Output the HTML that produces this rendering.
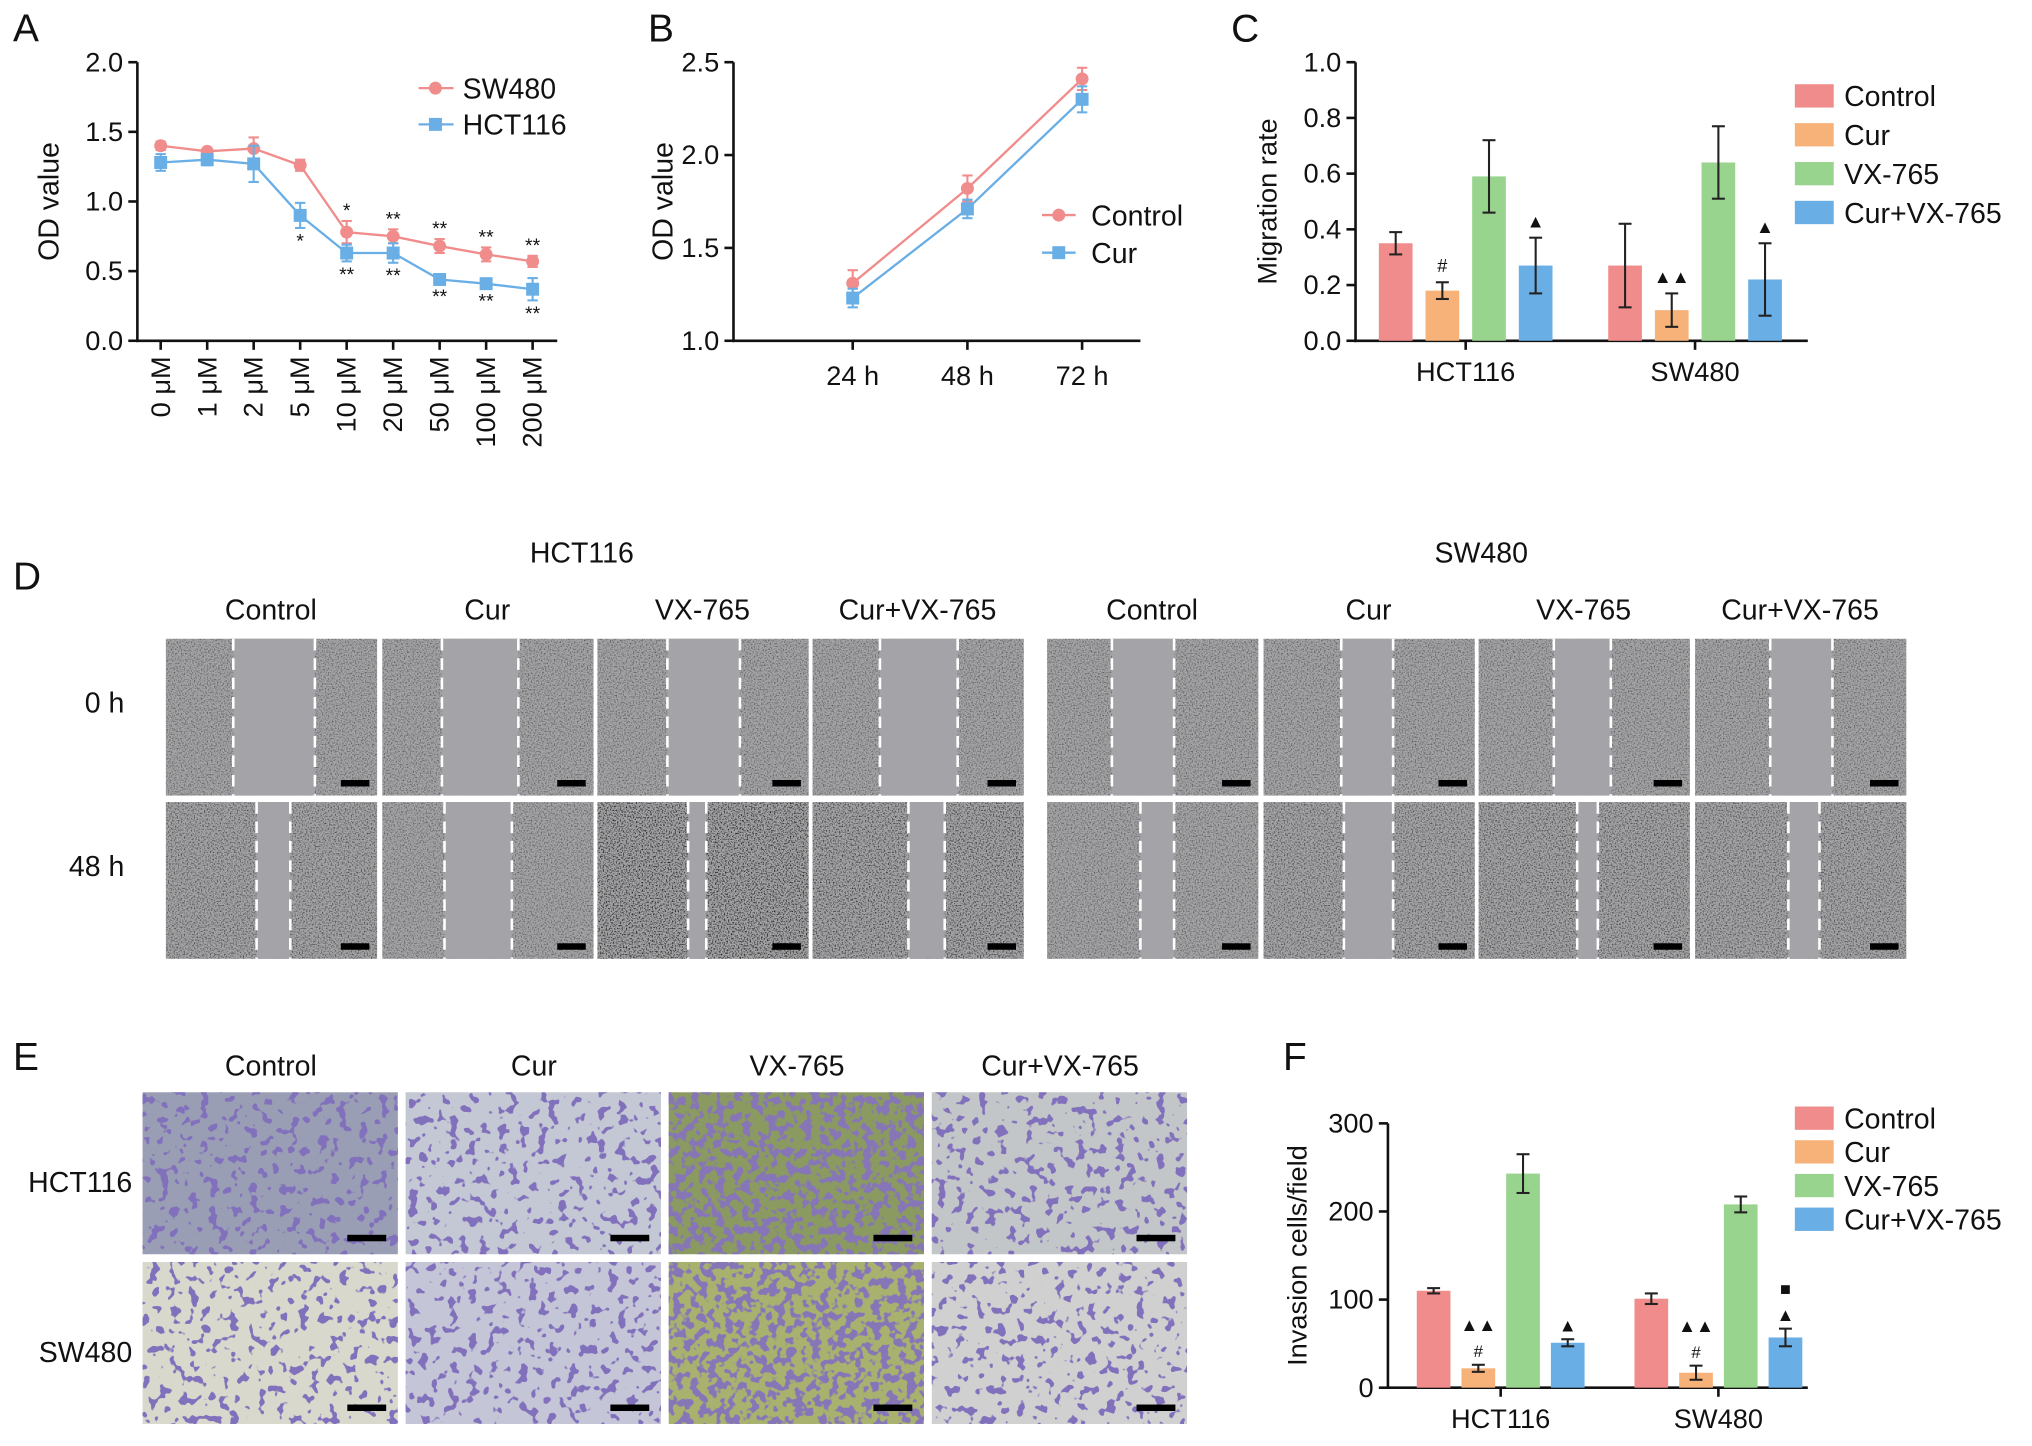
<!DOCTYPE html>
<html><head><meta charset="utf-8">
<style>
html,body{margin:0;padding:0;background:#fff;}
svg{display:block;font-family:"Liberation Sans",Arial,sans-serif;}
</style></head>
<body>
<svg id="fig" width="2032" height="1446" viewBox="0 0 1568 1116" preserveAspectRatio="none" xmlns="http://www.w3.org/2000/svg">
<defs>
<filter id="grain" x="0" y="0" width="100%" height="100%">
<feTurbulence type="fractalNoise" baseFrequency="0.9" numOctaves="2" seed="3" result="n"/>
<feColorMatrix in="n" type="matrix" values="0 0 0 0 0  0 0 0 0 0  0 0 0 0 0  0 0 0 -3 1.6" result="a"/>
<feComposite in="a" in2="SourceGraphic" operator="in"/>
</filter>
<filter id="spots" x="0" y="0" width="100%" height="100%">
<feTurbulence type="fractalNoise" baseFrequency="0.13" numOctaves="2" seed="7" result="n"/>
<feColorMatrix in="n" type="matrix" values="0 0 0 0 0.22  0 0 0 0 0.16  0 0 0 0 0.5  0 0 0 -22 8.8" result="a"/>
<feComposite in="a" in2="SourceGraphic" operator="in"/>
</filter>
<filter id="spotsDense" x="0" y="0" width="100%" height="100%">
<feTurbulence type="fractalNoise" baseFrequency="0.15" numOctaves="2" seed="11" result="n"/>
<feColorMatrix in="n" type="matrix" values="0 0 0 0 0.24  0 0 0 0 0.18  0 0 0 0 0.48  0 0 0 -14 7" result="a"/>
<feComposite in="a" in2="SourceGraphic" operator="in"/>
</filter>
</defs>
<g id="root"></g>
</svg>
<script>
// ---------- Panel A data ----------
const aCategories = ["0 μM","1 μM","2 μM","5 μM","10 μM","20 μM","50 μM","100 μM","200 μM"];
const aSW480 = [1.40,1.36,1.38,1.26,0.78,0.75,0.68,0.62,0.57];
const aSW480Err = [0.03,0.02,0.08,0.04,0.08,0.05,0.05,0.05,0.04];
const aHCT116 = [1.28,1.30,1.27,0.90,0.63,0.63,0.44,0.41,0.37];
const aHCT116Err = [0.06,0.04,0.13,0.09,0.06,0.07,0.03,0.03,0.08];
const aTicks = [0.0,0.5,1.0,1.5,2.0];
const aStarsTop = ["","","","","*","**","**","**","**"];
const aStarsBot = ["","","","*","**","**","**","**","**"];
// ---------- Panel B data ----------
const bCategories = ["24 h","48 h","72 h"];
const bControl = [1.31,1.82,2.41];
const bControlErr = [0.07,0.07,0.06];
const bCur = [1.23,1.71,2.30];
const bCurErr = [0.05,0.05,0.07];
const bTicks = [1.0,1.5,2.0,2.5];
// ---------- Panel C data ----------
const cGroups = ["HCT116","SW480"];
const cSeries = ["Control","Cur","VX-765","Cur+VX-765"];
const cValues = [[0.35,0.18,0.59,0.27],[0.27,0.11,0.64,0.22]];
const cErrors = [[0.04,0.03,0.13,0.10],[0.15,0.06,0.13,0.13]];
const cMarks = [["","#","","▲"],["","▲▲","","▲"]];
const cTicks = [0.0,0.2,0.4,0.6,0.8,1.0];
// ---------- Panel F data ----------
const fValues = [[110,22,243,51],[101,17,208,57]];
const fErrors = [[3,4,22,4],[6,8,9,10]];
const fTicks = [0,100,200,300];

const colors = ["#f08c8c","#f7b27a","#98d48e","#6aaee6"];
const pink = "#f08c8c", blue = "#6aaee6";
const NS = "http://www.w3.org/2000/svg";
const root = document.getElementById('root');
function el(tag, attrs, parent, text){
  const e = document.createElementNS(NS, tag);
  for (const k in attrs) e.setAttribute(k, attrs[k]);
  if (text !== undefined) e.textContent = text;
  (parent || root).appendChild(e);
  return e;
}
function txt(x,y,s,size,anchor,parent,name){
  const t = el('text',{x:x,y:y,'font-size':size,'text-anchor':anchor||'middle',fill:'#111'},parent,s);
  
  
  return t;
}
function line(x1,y1,x2,y2,parent,w,c){
  return el('line',{x1:x1,y1:y1,x2:x2,y2:y2,stroke:c||'#111','stroke-width':w||2},parent);
}
function errbar(x,y1,y2,parent,c,cap){
  line(x,y1,x,y2,parent,1.6,c);
  line(x-cap,y1,x+cap,y1,parent,1.6,c);
  line(x-cap,y2,x+cap,y2,parent,1.6,c);
}
[["A",10,32],["B",500,32],["C",950,32],["D",10,455],["E",10,826],["F",990,826]].forEach(p=>{
  txt(p[1],p[2],p[0],30,'start',root,'panel-label-'+p[0].toLowerCase());
});

// ---------- Panel A ----------
(function(){
  const g = el('g',{});  
  const x0=106, x1=430, y0=263, ymax=2.0, yTop=48;
  const y = v => y0 - (v/ymax)*(y0-yTop);
  const x = i => 124 + i*((411-124)/(aCategories.length-1));
  line(x0,yTop,x0,y0+1,g,2); line(x0-1,y0,x1,y0,g,2);
  aTicks.forEach(t=>{ line(x0-7,y(t),x0,y(t),g,2); txt(x0-11,y(t)+7,t.toFixed(1),21,'end',g,'y-tick-label'); });
  aCategories.forEach((c,i)=>{ line(x(i),y0,x(i),y0+7,g,2);
    const t = txt(0,0,c,21,'end',g,'x-tick-label'); t.setAttribute('transform',`translate(${x(i)+7},${y0+12}) rotate(-90)`); });
  const yl = txt(0,0,'OD value',22,'middle',g,'y-axis-title'); yl.setAttribute('transform',`translate(45,${(y0+yTop)/2}) rotate(-90)`);
  [[aSW480,aSW480Err,pink,'sw480'],[aHCT116,aHCT116Err,blue,'hct116']].forEach(s=>{
    el('polyline',{points:s[0].map((v,i)=>x(i)+','+y(v)).join(' '),fill:'none',stroke:s[2],'stroke-width':1.8},g);
    s[0].forEach((v,i)=>{ errbar(x(i),y(v+s[1][i]),y(v-s[1][i]),g,s[2],4);
      let m;
      if (s[3]==='sw480') m = el('circle',{cx:x(i),cy:y(v),r:5,fill:s[2]},g);
      else m = el('rect',{x:x(i)-5,y:y(v)-5,width:10,height:10,fill:s[2]},g);
        });
  });
  aCategories.forEach((c,i)=>{
    if (aStarsTop[i]) txt(x(i),y(aSW480[i]+aSW480Err[i])-3,aStarsTop[i],15,'middle',g,'significance-star');
    if (aStarsBot[i]) txt(x(i),y(aHCT116[i]-aHCT116Err[i])+15,aStarsBot[i],15,'middle',g,'significance-star');
  });
  const lg = el('g',{},g);  
  line(323,68,350,68,lg,1.8,pink); el('circle',{cx:336,cy:68,r:5,fill:pink},lg); txt(357,76,'SW480',22,'start',lg,'legend-entry-sw480');
  line(323,96,350,96,lg,1.8,blue); el('rect',{x:331,y:91,width:10,height:10,fill:blue},lg); txt(357,104,'HCT116',22,'start',lg,'legend-entry-hct116');
})();

// ---------- Panel B ----------
(function(){
  const g = el('g',{});  
  const x0=566, x1=880, y0=263, yTop=48, vmin=1.0, vmax=2.5;
  const y = v => y0 - (v-vmin)/(vmax-vmin)*(y0-yTop);
  const x = i => 658 + i*88.5;
  line(x0,yTop,x0,y0+1,g,2); line(x0-1,y0,x1,y0,g,2);
  bTicks.forEach(t=>{ line(x0-7,y(t),x0,y(t),g,2); txt(x0-11,y(t)+7,t.toFixed(1),21,'end',g,'y-tick-label'); });
  bCategories.forEach((c,i)=>{ line(x(i),y0,x(i),y0+7,g,2); txt(x(i),y0+34,c,21,'middle',g,'x-tick-label'); });
  const yl = txt(0,0,'OD value',22,'middle',g,'y-axis-title'); yl.setAttribute('transform',`translate(519,${(y0+yTop)/2}) rotate(-90)`);
  [[bControl,bControlErr,pink,'control'],[bCur,bCurErr,blue,'cur']].forEach(s=>{
    el('polyline',{points:s[0].map((v,i)=>x(i)+','+y(v)).join(' '),fill:'none',stroke:s[2],'stroke-width':1.8},g);
    s[0].forEach((v,i)=>{ errbar(x(i),y(v+s[1][i]),y(v-s[1][i]),g,s[2],4);
      let m;
      if (s[3]==='control') m = el('circle',{cx:x(i),cy:y(v),r:5,fill:s[2]},g);
      else m = el('rect',{x:x(i)-5,y:y(v)-5,width:10,height:10,fill:s[2]},g);
        });
  });
  const lg = el('g',{},g);  
  line(804,166,830,166,lg,1.8,pink); el('circle',{cx:817,cy:166,r:5,fill:pink},lg); txt(842,174,'Control',22,'start',lg,'legend-entry-control');
  line(804,195,830,195,lg,1.8,blue); el('rect',{x:812,y:190,width:10,height:10,fill:blue},lg); txt(842,203,'Cur',22,'start',lg,'legend-entry-cur');
})();

// ---------- Bar chart helper ----------
function barChart(opt, values, errors, ticks, marks){
  const g = el('g',{});  
  const {x0,x1,y0,yTop,vmax} = opt;
  const y = v => y0 - v/vmax*(y0-yTop);
  line(x0,yTop,x0,y0+1,g,2); line(x0-1,y0,x1,y0,g,2);
  ticks.forEach(t=>{ line(x0-7,y(t),x0,y(t),g,2); txt(x0-11,y(t)+7,opt.fmt(t),21,'end',g,'y-tick-label'); });
  const yl = txt(0,0,opt.ytitle,21,'middle',g,'y-axis-title'); yl.setAttribute('transform',`translate(${opt.ytx},${(y0+yTop)/2}) rotate(-90)`);
  cGroups.forEach((gname,gi)=>{
    const gc = opt.groupX[gi];
    line(gc,y0,gc,y0+7,g,2);
    txt(gc,y0+31,gname,21,'middle',g,'x-tick-label');
    values[gi].forEach((v,si)=>{
      const bx = gc + (si-1.5)*opt.step;
      const r = el('rect',{x:bx-opt.bw/2,y:y(v),width:opt.bw,height:y0-y(v),fill:colors[si]},g);
      
      
      errbar(bx,y(v+errors[gi][si]),y(Math.max(0,v-errors[gi][si])),g,'#222',5);
      if (marks) {
        const m = marks[gi][si];
        if (m) txt(bx, y(v+errors[gi][si])-8, m, 14,'middle',g,'significance-mark');
      }
    });
  });
  const lg = el('g',{},g);  
  cSeries.forEach((s,i)=>{
    el('rect',{x:opt.lx,y:opt.ly+i*opt.lgap-9,width:30,height:18,fill:colors[i]},lg);
    txt(opt.lx+38,opt.ly+i*opt.lgap+8,s,22,'start',lg,'legend-entry-'+s.toLowerCase().replace('+','-'));
  });
  return {g,y};
}
barChart({name:'panel-c-bar-chart',x0:1046,x1:1395,y0:263,yTop:48,vmax:1.0,fmt:t=>t.toFixed(1),ytitle:'Migration rate',ytx:985,groupX:[1131,1308],step:36,bw:26,lx:1385,ly:74,lgap:30},cValues,cErrors,cTicks,cMarks);
const F = barChart({name:'panel-f-bar-chart',x0:1071,x1:1395,y0:1071,yTop:867,vmax:300,fmt:t=>String(t),ytitle:'Invasion cells/field',ytx:1008,groupX:[1158,1326],step:34.5,bw:26,lx:1385,ly:863,lgap:26},fValues,fErrors,fTicks,null);
(function(){
  const marksF = [["","▲▲ #","","▲"],["","▲▲ #","","■ ▲"]];
  [1158,1326].forEach((gc,gi)=>{
    marksF[gi].forEach((m,si)=>{
      if(!m) return;
      const bx = gc+(si-1.5)*34.5;
      const top = F.y(fValues[gi][si]+fErrors[gi][si]);
      const parts = m.split(' ');
      parts.reverse().forEach((p,k)=>{ txt(bx, top-6-k*20, p, p==='#'?13:14,'middle',F.g,'significance-mark'); });
    });
  });
})();

// ---------- Panel D images ----------
(function(){
  const g = el('g',{});  
  const groups = [{title:'HCT116',tx:449,cols:[128,295,461,627]},{title:'SW480',tx:1143,cols:[808,975,1141,1308]}];
  const names = ["Control","Cur","VX-765","Cur+VX-765"];
  const rows = [{y:493,lab:'0 h',gap:[[52,115],[46,105],[54,110],[52,112],[50,98],[60,100],[58,102],[58,106]]},
                {y:619,lab:'48 h',gap:[[70,96],[48,100],[70,84],[74,102],[72,98],[62,100],[76,92],[72,96]]}];
  const dark = [[0,0,0,0,0,0,0,0],[0.3,0,1,0.6,0,0.3,0.4,0.3]];
  groups.forEach((gr,gi)=>{
    txt(gr.tx,434,gr.title,22,'middle',g,'cell-line-title');
    gr.cols.forEach((cx,ci)=>{ txt(cx+81,478,names[ci],22,'middle',g,'column-label'); });
  });
  rows.forEach((r,ri)=>{
    txt(96,r.y+57,r.lab,22,'end',g,'row-label');
    groups.forEach((gr,gi)=>{
      gr.cols.forEach((cx,ci)=>{
        const k = gi*4+ci, w=163, h=121;
        const d = dark[ri][k];
        const im = el('g',{},g);  
        el('rect',{x:cx,y:r.y,width:w,height:h,fill:'#a4a4a6'},im);
        el('rect',{x:cx,y:r.y,width:w,height:h,fill:'#000',filter:'url(#grain)',opacity:0.45+0.4*d},im);
        const gx1 = cx+r.gap[k][0], gx2 = cx+r.gap[k][1];
        el('rect',{x:gx1,y:r.y,width:gx2-gx1,height:h,fill:'#a3a3a8'},im);
        line(gx1,r.y,gx1,r.y+h,im,2,'#fff').setAttribute('stroke-dasharray','9 6');
        line(gx2,r.y,gx2,r.y+h,im,2,'#fff').setAttribute('stroke-dasharray','9 6');
        el('rect',{x:cx+w-28,y:r.y+h-12,width:22,height:5,fill:'#000'},im);
      });
    });
  });
})();

// ---------- Panel E images ----------
(function(){
  const g = el('g',{});  
  const cols=[110,313,516,719], names=["Control","Cur","VX-765","Cur+VX-765"];
  const rows=[{y:843,lab:'HCT116'},{y:974,lab:'SW480'}];
  const bg=[["#9a9eb4","#c4c7d4","#8a9a60","#c2c6c8"],["#d8d9cc","#c4c5d6","#a8b26e","#cfd0cf"]];
  const dense=[[0,0,1,0],[0,0,1,0]];
  cols.forEach((cx,ci)=>txt(cx+99,830,names[ci],22,'middle',g,'column-label'));
  rows.forEach((r,ri)=>{
    txt(102,r.y+77,r.lab,22,'end',g,'row-label');
    cols.forEach((cx,ci)=>{
      const im = el('g',{},g);  
      el('rect',{x:cx,y:r.y,width:197,height:125,fill:bg[ri][ci]},im);
      el('rect',{x:cx,y:r.y,width:197,height:125,fill:'#000',filter:dense[ri][ci]?'url(#spotsDense)':'url(#spots)'},im);
      el('rect',{x:cx+158,y:r.y+110,width:30,height:5,fill:'#000'},im);
    });
  });
})();
</script>
</body></html>
